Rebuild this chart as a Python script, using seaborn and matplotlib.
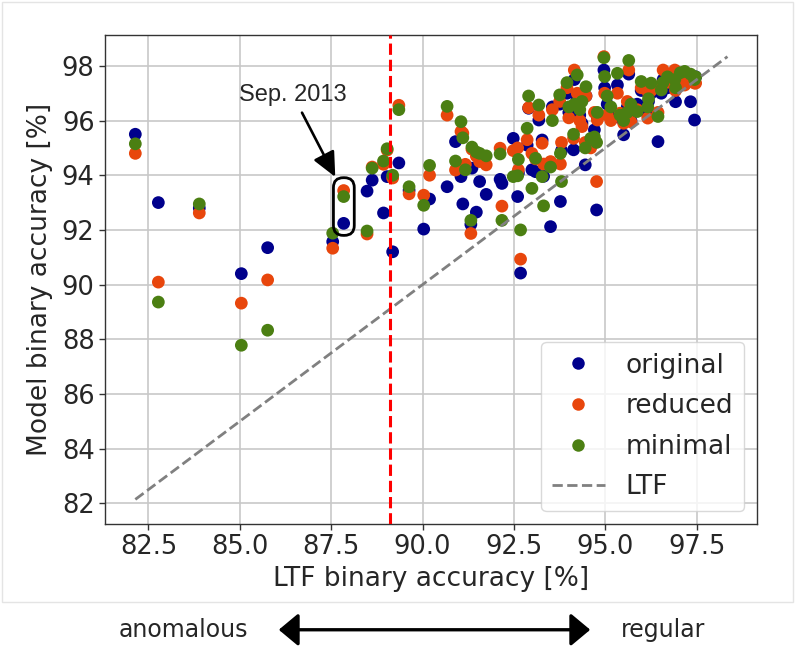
import numpy as np
import pandas as pd
import seaborn as sns
import matplotlib.pyplot as plt
from matplotlib.patches import FancyBboxPatch, Rectangle, FancyArrowPatch
from matplotlib.lines import Line2D

# LTF accuracy per month and accuracy of the three models on the same month
ltf = [82.14, 82.77, 83.89, 85.04, 85.76, 87.54, 87.84, 88.48, 88.62, 88.93,
       89.03, 89.18, 89.35, 89.63, 90.03, 90.19, 90.67, 90.90, 91.05, 91.10,
       91.17, 91.32, 91.35, 91.47, 91.56, 91.74, 92.12, 92.17, 92.48, 92.62,
       92.60, 92.68, 92.86, 92.90, 92.99, 93.09, 93.18, 93.27, 93.31, 93.50,
       93.55, 93.75, 93.77, 93.80, 93.95, 94.00, 94.13, 94.15, 94.23, 94.30,
       94.36, 94.45, 94.47, 94.60, 94.70, 94.76, 94.78, 94.96, 94.98, 95.05,
       95.15, 95.33, 95.40, 95.50, 95.60, 95.64, 95.70, 95.87, 95.98, 96.16,
       96.18, 96.25, 96.44, 96.53, 96.58, 96.70, 96.90, 96.92, 97.05, 97.17,
       97.33, 97.44, 97.47]
original = [95.50, 93.00, 92.80, 90.40, 91.35, 91.57, 92.24, 93.42, 93.82, 92.62,
            93.95, 91.20, 94.45, 93.45, 92.03, 93.13, 93.58, 95.23, 93.95, 92.95,
            94.22, 92.20, 94.26, 92.65, 93.77, 93.30, 93.85, 93.70, 95.35, 94.08,
            93.22, 90.42, 95.10, 96.45, 94.20, 94.13, 96.02, 95.29, 93.96, 92.12,
            96.50, 96.60, 93.04, 94.90, 97.00, 96.30, 94.93, 97.50, 96.80, 96.20,
            95.90, 94.38, 96.90, 95.20, 95.66, 92.73, 96.10, 97.85, 97.20, 96.60,
            96.30, 97.30, 96.10, 95.48, 96.50, 97.70, 96.00, 96.60, 97.10, 96.20,
            96.70, 97.00, 95.23, 97.00, 97.50, 97.20, 97.30, 96.69, 97.40, 97.49,
            96.69, 96.02, 97.60]
reduced = [94.80, 90.09, 92.62, 89.32, 90.17, 91.33, 93.44, 91.85, 94.30, 94.40,
           94.92, 93.90, 96.56, 93.32, 93.27, 94.00, 96.20, 94.19, 95.60, 95.54,
           94.40, 91.87, 94.95, 94.70, 94.50, 94.38, 94.99, 92.87, 94.90, 94.20,
           95.00, 90.93, 95.30, 96.47, 94.80, 94.60, 96.20, 95.17, 94.41, 94.50,
           96.40, 96.70, 94.41, 95.20, 97.20, 96.10, 95.35, 97.85, 97.00, 96.00,
           95.78, 95.20, 96.90, 95.00, 96.30, 93.77, 96.02, 98.34, 97.00, 96.20,
           96.00, 97.00, 96.27, 95.90, 96.70, 97.85, 95.95, 96.40, 97.20, 96.09,
           97.00, 97.10, 96.30, 97.30, 97.85, 97.40, 97.85, 97.10, 97.60, 97.30,
           97.50, 97.37, 97.37]
minimal = [95.15, 89.36, 92.95, 87.78, 88.33, 91.88, 93.22, 91.96, 94.26, 94.52,
           94.97, 94.00, 96.40, 93.58, 92.90, 94.36, 96.52, 94.52, 95.96, 95.37,
           94.20, 92.35, 95.03, 94.85, 94.80, 94.71, 94.78, 92.35, 93.95, 94.58,
           93.98, 92.00, 95.72, 96.90, 93.52, 94.62, 96.57, 93.95, 92.88, 94.30,
           96.00, 96.94, 94.80, 93.77, 97.39, 96.50, 95.50, 96.60, 97.67, 96.40,
           96.70, 95.00, 97.24, 95.35, 95.40, 95.20, 96.30, 98.30, 97.61, 96.90,
           96.50, 97.73, 96.20, 96.00, 96.30, 98.20, 96.60, 96.33, 97.43, 96.50,
           96.80, 97.37, 96.15, 97.12, 97.40, 97.60, 97.50, 97.20, 97.75, 97.80,
           97.70, 97.50, 97.60]

models = ['original', 'reduced', 'minimal']
colors = ['#00008c', '#e8460c', '#4b7f12']
threshold = 89.1          # red dashed separator
sep_idx = 6               # Sep. 2013 month
x_ticks = [82.5, 85.0, 87.5, 90.0, 92.5, 95.0, 97.5]
y_ticks = [82, 84, 86, 88, 90, 92, 94, 96, 98]

df = pd.concat([
    pd.DataFrame({'ltf': ltf, 'acc': vals, 'model': name})
    for name, vals in zip(models, [original, reduced, minimal])
], ignore_index=True)

sns.set_style('whitegrid')
plt.rcParams['font.family'] = ['DejaVu Sans']

fig = plt.figure(figsize=(7.99, 6.56), dpi=100)
fig.patches.append(Rectangle((0.003, 0.083), 0.99, 0.914, transform=fig.transFigure,
                             fill=False, ec='#e4e4e4', lw=1.0))
ax = fig.add_axes([0.1314, 0.2012, 0.8161, 0.7454])

sns.scatterplot(data=df, x='ltf', y='acc', hue='model', hue_order=models,
                palette=colors, s=84, linewidth=0, alpha=1, legend=False,
                ax=ax, zorder=2)

diag = [min(ltf), max(max(original), max(reduced), max(minimal))]
ax.plot(diag, diag, ls='--', color='gray', lw=2.0, zorder=3)
ax.axvline(threshold, color='red', ls='--', lw=2.2, zorder=3)

# Sep. 2013 annotation
sx = ltf[sep_idx]
sy = [original[sep_idx], reduced[sep_idx], minimal[sep_idx]]
box = FancyBboxPatch((sx - 0.28, min(sy) - 0.44), 0.57, max(sy) - min(sy) + 0.91,
                     boxstyle='round,pad=0,rounding_size=0.27', mutation_aspect=1.337,
                     fill=False, ec='black', lw=2.0, zorder=4)
ax.add_patch(box)
ax.text(86.45, 96.94, 'Sep. 2013', ha='center', va='center', fontsize=17,
        family='Liberation Sans')
ax.annotate('', xy=(sx - 0.23, max(sy) + 0.5), xytext=(86.70, 96.29),
            arrowprops=dict(arrowstyle='-|>,head_length=0.75,head_width=0.35',
                            color='black', lw=1.9, mutation_scale=20,
                            shrinkA=0, shrinkB=0))

ax.set_xlim(81.31, 99.15)
ax.set_ylim(81.24, 99.13)
ax.set_xticks(x_ticks)
ax.set_xticklabels([f'{t:.1f}' for t in x_ticks])
ax.set_yticks(y_ticks)
ax.tick_params(labelsize=18.5, length=4, width=1, color='#333333', left=True, bottom=True)
ax.grid(True, color='#c8c8c8', lw=1.2)
for sp in ax.spines.values():
    sp.set_color('#333333')
    sp.set_linewidth(1.0)
ax.set_xlabel('LTF binary accuracy [%]', fontsize=19, labelpad=4)
ax.set_ylabel('Model binary accuracy [%]', fontsize=19, labelpad=6)

handles = [Line2D([], [], ls='none', marker='o', markersize=9, color=c,
                  markeredgewidth=0) for c in colors]
handles.append(Line2D([], [], ls='--', color='gray', lw=2.0))
ax.legend(handles, models + ['LTF'], loc='lower right', fontsize=19,
          frameon=True, framealpha=0.8, edgecolor='#d0d0d0',
          borderaxespad=0.5, labelspacing=0.55)

# regime arrow below the chart
fig.text(0.229, 0.040, 'anomalous', ha='center', va='center', fontsize=17)
fig.text(0.830, 0.040, 'regular', ha='center', va='center', fontsize=17)
fig.patches.append(FancyArrowPatch(
    (0.3454, 0.040), (0.7422, 0.040), transform=fig.transFigure,
    arrowstyle='<|-|>,head_length=0.6,head_width=0.5', mutation_scale=20,
    color='black', lw=2.4))

fig.savefig('out.png', dpi=100)
